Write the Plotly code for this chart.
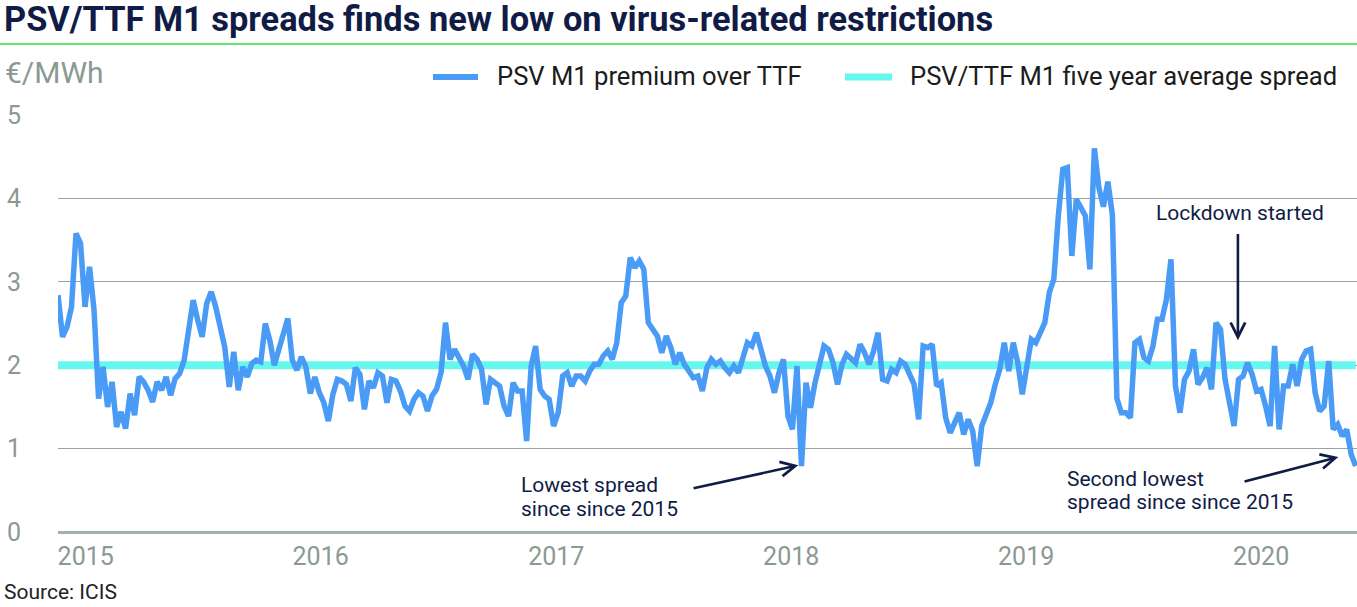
import pandas as pd
import plotly.graph_objects as go

# ---------------- data ----------------
title_text = "PSV/TTF M1 spreads finds new low on virus-related restrictions"
unit_label = "€/MWh"
source_text = "Source: ICIS"
series_names = ["PSV M1 premium over TTF", "PSV/TTF M1 five year average spread"]

start_date = "2014-11-19"          # weekly observations
psv_premium = [
    2.84, 2.34, 2.46, 2.70, 3.58, 3.46, 2.70, 3.18, 2.66, 1.60,
    1.98, 1.50, 1.80, 1.26, 1.44, 1.24, 1.66, 1.40, 1.86, 1.80,
    1.70, 1.56, 1.80, 1.70, 1.86, 1.64, 1.84, 1.90, 2.06, 2.38,
    2.78, 2.54, 2.34, 2.74, 2.88, 2.70, 2.46, 2.22, 1.74, 2.16,
    1.70, 1.98, 1.86, 2.02, 2.06, 2.04, 2.50, 2.30, 2.00, 2.18,
    2.38, 2.56, 2.06, 1.94, 2.10, 1.98, 1.66, 1.86,
    1.67, 1.55, 1.33, 1.65, 1.83, 1.81, 1.77, 1.57, 1.97, 1.89,
    1.47, 1.81, 1.73, 1.91, 1.87, 1.55, 1.83, 1.81, 1.69, 1.51,
    1.45, 1.59, 1.67, 1.63, 1.45, 1.63, 1.71, 1.91, 2.51, 2.07,
    2.19, 2.07, 1.99, 1.83, 2.13, 2.07, 1.95, 1.53, 1.83, 1.79,
    1.75, 1.51, 1.39, 1.79, 1.69, 1.69, 1.09, 1.99, 2.23, 1.71,
    1.63, 1.59, 1.27, 1.43, 1.87, 1.91, 1.75, 1.87,
    1.87, 1.81, 1.93, 2.01, 2.01, 2.11, 2.17, 2.07, 2.27, 2.75,
    2.83, 3.29, 3.17, 3.25, 3.15, 2.51, 2.43, 2.35, 2.15, 2.35,
    2.21, 2.01, 2.15, 2.01, 1.93, 1.85, 1.87, 1.69, 1.97, 2.07,
    2.01, 2.05, 1.97, 1.91, 1.99, 1.91, 2.09, 2.27, 2.23, 2.39,
    2.19, 1.99, 1.87, 1.67, 1.91, 2.07, 1.39, 1.23, 1.99, 0.79,
    1.79, 1.49, 1.79, 1.99, 2.23, 2.19, 2.03, 1.77,
    2.01, 2.13, 2.09, 2.03, 2.25, 2.15, 2.01, 2.17, 2.39, 1.83,
    1.81, 1.95, 1.91, 2.05, 2.01, 1.87, 1.77, 1.35, 2.23, 2.21,
    2.25, 1.75, 1.79, 1.37, 1.19, 1.31, 1.43, 1.17, 1.35, 1.21,
    0.79, 1.27, 1.41, 1.55, 1.77, 1.95, 2.27, 1.93, 2.27, 2.03,
    1.65, 1.95, 2.31, 2.27, 2.41, 2.51, 2.87, 3.03, 3.79, 4.35,
    4.37, 3.31, 3.99, 3.87, 3.79, 3.15, 4.60, 4.13, 3.90, 4.20,
    3.80, 1.60, 1.43, 1.43, 1.37, 2.27, 2.31, 2.09, 2.05, 2.23,
    2.55, 2.55, 2.79, 3.27, 1.75, 1.43, 1.83, 1.93, 2.19, 1.77,
    1.85, 1.97, 1.71, 2.51, 2.43, 1.83, 1.55, 1.27, 1.83, 1.87,
    2.03, 1.89, 1.69, 1.71, 1.51, 1.27, 2.23, 1.23, 1.75, 1.75,
    2.01, 1.75, 2.07, 2.17, 2.19, 1.67, 1.45, 1.51, 2.05, 1.23,
    1.29, 1.15, 1.23, 0.93, 0.79,
]
five_year_avg = 2.0

year_ticks = ["2015-01-01", "2016-01-01", "2017-01-01",
              "2018-01-01", "2019-01-01", "2020-01-01"]
year_labels = ["2015", "2016", "2017", "2018", "2019", "2020"]
y_ticks = [0, 1, 2, 3, 4, 5]

dates = pd.date_range(start_date, periods=len(psv_premium), freq="7D")

# ---------------- styles ----------------
NAVY = "#101c46"
GREY = "#8a9a92"
BLUE = "#4a9bf6"
CYAN = "#66f8ee"
FONT = "Roboto"
W, H = 1357, 607
ML, MR, MT, MB = 58, 0, 115, 75
PW, PH = W - ML - MR, H - MT - MB


def px_x(px):
    return (px - ML) / PW


def px_y(py):
    return (H - MB - py) / PH


fig = go.Figure()

fig.add_trace(go.Scatter(
    x=[dates[0], dates[-1]], y=[five_year_avg, five_year_avg],
    mode="lines", name=series_names[1], showlegend=False,
    line=dict(color=CYAN, width=8), hoverinfo="skip",
))
fig.add_trace(go.Scatter(
    x=dates, y=psv_premium, mode="lines", name=series_names[0], showlegend=False,
    line=dict(color=BLUE, width=5.5),
))

ann_font = dict(family=FONT, size=21, color=NAVY)


def label(text, x, y, anchor="left"):
    return dict(text=text, xref="x", yref="y", x=x, y=y, xanchor=anchor,
                yanchor="middle", showarrow=False, font=ann_font)


def arrow(x, y, ax, ay):
    return dict(text="", xref="x", yref="y", axref="x", ayref="y",
                x=x, y=y, ax=ax, ay=ay, showarrow=True, arrowhead=5,
                arrowsize=1.1, arrowwidth=2.6, arrowcolor=NAVY)


def legend_text(text, px):
    return dict(text=text, xref="paper", yref="paper", x=px_x(px), y=px_y(76),
                xanchor="left", yanchor="middle", showarrow=False,
                font=dict(family=FONT, size=25.6, color="#1b1b1b"))


def legend_key(color, px0, px1, width):
    return dict(type="line", xref="paper", yref="paper",
                x0=px_x(px0), x1=px_x(px1), y0=px_y(77), y1=px_y(77),
                line=dict(color=color, width=width))


annots = [
    dict(text=unit_label, xref="paper", yref="paper", x=px_x(3), y=px_y(72),
         xanchor="left", yanchor="middle", showarrow=False,
         font=dict(family=FONT, size=30, color=GREY)),
    dict(text=source_text, xref="paper", yref="paper", x=px_x(2), y=px_y(592),
         xanchor="left", yanchor="middle", showarrow=False,
         font=dict(family=FONT, size=21, color="#222222")),
    legend_text(series_names[0], 495),
    legend_text(series_names[1], 908),
    label("Lockdown started", "2019-11-29", 3.83, anchor="center"),
    label("Lowest spread", "2016-11-04", 0.56),
    label("since since 2015", "2016-11-04", 0.28),
    label("Second lowest", "2019-03-03", 0.63),
    label("spread since since 2015", "2019-03-03", 0.36),
    arrow("2019-11-26", 2.30, "2019-11-26", 3.59),
    arrow("2018-01-12", 0.80, "2017-07-31", 0.52),
    arrow("2020-04-30", 0.90, "2019-12-04", 0.60),
]

shapes = [
    dict(type="line", xref="paper", yref="paper",
         x0=px_x(0), x1=px_x(W), y0=px_y(44), y1=px_y(44),
         line=dict(color="#5fe870", width=2)),
    legend_key(BLUE, 433, 478, 6),
    legend_key(CYAN, 845, 892, 7),
]

fig.update_layout(
    width=W, height=H,
    margin=dict(l=ML, r=MR, t=MT, b=MB),
    paper_bgcolor="white", plot_bgcolor="white",
    font=dict(family=FONT),
    title=dict(text=title_text, xref="container", yref="container",
               x=4 / W, y=1 - 19 / H, xanchor="left", yanchor="middle",
               font=dict(family=FONT, size=34.4, color=NAVY, weight=700)),
    showlegend=False,
    annotations=annots,
    shapes=shapes,
    hovermode=False,
)

fig.update_xaxes(
    type="date", range=["2014-11-19", "2020-05-29"],
    tickvals=year_ticks, ticktext=year_labels,
    showgrid=False, zeroline=False, showline=False, ticks="",
    tickfont=dict(family=FONT, size=25, color=GREY),
    ticklabelstandoff=7,
)
fig.update_yaxes(
    range=[0, 5], tickvals=y_ticks, ticktext=[str(v) for v in y_ticks],
    showgrid=True, gridcolor="#96a49d", gridwidth=1.3,
    zeroline=True, zerolinecolor="#a4b1ab", zerolinewidth=3,
    showline=False, ticks="",
    tickfont=dict(family=FONT, size=25, color=GREY),
    ticklabelstandoff=36,
)

fig.write_html("out.html", config={"displayModeBar": False},
               post_script="document.body.style.margin='0px';")
